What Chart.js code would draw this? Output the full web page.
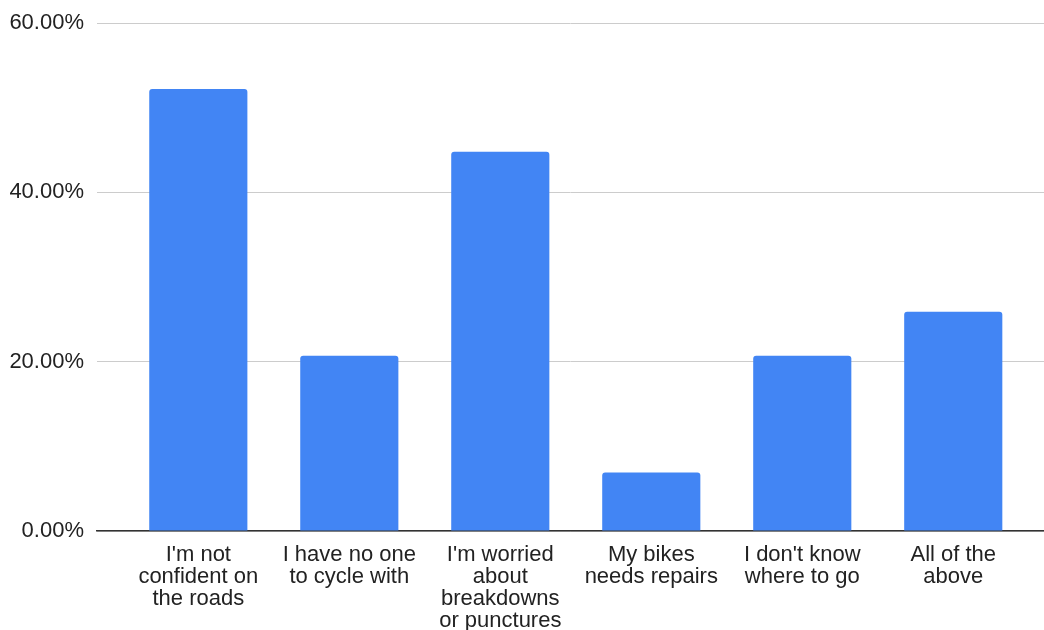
<!DOCTYPE html>
<html>
<head>
<meta charset="utf-8">
<script src="https://cdn.jsdelivr.net/npm/chart.js@4"></script>
<style>
    html, body { margin: 0; padding: 0; background: #fff; }
    #wrap { width: 1044px; height: 630px; }
</style>
</head>
<body>
<div id="wrap"><canvas id="barChart"></canvas></div>
<script>
// categorias (cada una partida en lineas como en la imagen)
const categories = [
    ["I'm not", "confident on", "the roads"],
    ["I have no one", "to cycle with"],
    ["I'm worried", "about", "breakdowns", "or punctures"],
    ["My bikes", "needs repairs"],
    ["I don't know", "where to go"],
    ["All of the", "above"]
];

// porcentajes
const values = [52.2, 20.7, 44.8, 6.9, 20.7, 25.9];

const yTicks = [0, 20, 40, 60];

const FONT = "'Liberation Sans', Arial, sans-serif";

/* ===========================
   GRAFICO
=========================== */

const ctx = document.getElementById("barChart").getContext("2d");

new Chart(ctx, {
    type: "bar",
    data: {
        datasets: [{
            data: values.map((v, i) => ({ x: i + 1, y: v })),
            backgroundColor: "#4285f4",
            borderWidth: 0,
            borderRadius: { topLeft: 3, topRight: 3 },
            borderSkipped: "bottom",
            categoryPercentage: 0.65,
            barPercentage: 1
        }]
    },
    options: {
        responsive: true,
        maintainAspectRatio: false,
        animation: false,
        layout: { padding: { left: 0, top: 23, right: 0, bottom: 0 } },
        plugins: {
            legend: { display: false },
            tooltip: { enabled: false }
        },
        scales: {
            x: {
                type: "linear",
                offset: false,
                min: 0.329,
                max: 6.601,
                afterBuildTicks: scale => {
                    scale.ticks = categories.map((_, i) => ({ value: i + 1 }));
                },
                afterFit: scale => {
                    scale.height = 99;
                    scale.paddingLeft = 0;
                    scale.paddingRight = 0;
                },
                grid: { display: false, drawTicks: false },
                border: { display: true, color: "#333333", width: 1.5 },
                ticks: {
                    autoSkip: false,
                    maxRotation: 0,
                    padding: 13,
                    color: "#222222",
                    font: { family: FONT, size: 22, lineHeight: 1 },
                    callback: value => categories[value - 1]
                }
            },
            y: {
                min: 0,
                max: 60,
                afterBuildTicks: scale => {
                    scale.ticks = yTicks.map(v => ({ value: v }));
                },
                afterFit: scale => {
                    scale.width = 97;
                    scale.paddingTop = 0;
                    scale.paddingBottom = 0;
                },
                grid: { color: "#cccccc", lineWidth: 1, drawTicks: false },
                border: { display: false },
                ticks: {
                    padding: 13,
                    color: "#222222",
                    font: { family: FONT, size: 22 },
                    callback: value => value.toFixed(2) + "%"
                }
            }
        }
    }
});
</script>
</body>
</html>
